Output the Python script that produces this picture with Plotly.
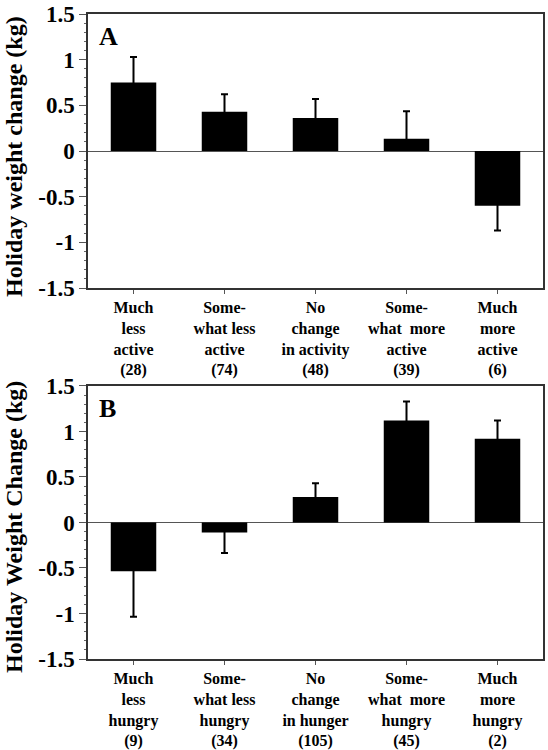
import plotly.graph_objects as go
from plotly.subplots import make_subplots

cats_a = ["Much<br>less<br>active<br>(28)", "Some-<br>what less<br>active<br>(74)",
          "No<br>change<br>in activity<br>(48)", "Some-<br>what  more<br>active<br>(39)",
          "Much<br>more<br>active<br>(6)"]
vals_a = [0.75, 0.43, 0.36, 0.135, -0.60]
err_a = [0.28, 0.19, 0.21, 0.30, 0.27]

cats_b = ["Much<br>less<br>hungry<br>(9)", "Some-<br>what less<br>hungry<br>(34)",
          "No<br>change<br>in hunger<br>(105)", "Some-<br>what  more<br>hungry<br>(45)",
          "Much<br>more<br>hungry<br>(2)"]
vals_b = [-0.535, -0.11, 0.28, 1.12, 0.92]
err_b = [0.50, 0.225, 0.15, 0.21, 0.20]

ytitle_a = "Holiday weight change (kg)"
ytitle_b = "Holiday Weight Change (kg)"
yticks = [-1.5, -1, -0.5, 0, 0.5, 1, 1.5]
yticktext = ["-1.5", "-1", "-0.5", "0", "0.5", "1", "1.5"]

FONT = "Liberation Serif"
INSET = 0.03  # error bar starts slightly inside the bar so its base cap is hidden

fig = make_subplots(rows=2, cols=1, vertical_spacing=0.0)


def add_panel(cats, vals, errs, row):
    xs = list(range(len(cats)))
    fig.add_trace(go.Bar(
        x=xs, y=vals, width=0.5,
        marker=dict(color="black", line=dict(width=0)),
        showlegend=False, hoverinfo="skip"), row=row, col=1)
    base = [v - INSET if v >= 0 else v + INSET for v in vals]
    plus = [e + INSET if v >= 0 else 0 for v, e in zip(vals, errs)]
    minus = [e + INSET if v < 0 else 0 for v, e in zip(vals, errs)]
    fig.add_trace(go.Scatter(
        x=xs, y=base, mode="markers", marker=dict(size=0.1, color="rgba(0,0,0,0)"),
        error_y=dict(type="data", symmetric=False, array=plus, arrayminus=minus,
                     color="black", thickness=2, width=3.5),
        showlegend=False, hoverinfo="skip"), row=row, col=1)


add_panel(cats_a, vals_a, err_a, 1)
add_panel(cats_b, vals_b, err_b, 2)


def bold(labels):
    return ["<b>" + s.replace("<br>", "</b><br><b>") + "</b>" for s in labels]


common_x = dict(range=[-0.5, 4.5], tickmode="array", tickvals=list(range(5)),
                ticks="outside", ticklen=4, tickwidth=1, tickcolor="#555",
                showline=True, linecolor="#333", linewidth=1.5, mirror=True,
                showgrid=False, zeroline=False, automargin=False,
                tickfont=dict(family=FONT, size=16, color="black"))
common_y = dict(range=[-1.5, 1.5], tickmode="array", tickvals=yticks,
                ticktext=["<b>" + t + "</b>" for t in yticktext],
                ticks="outside", ticklen=7, tickwidth=1, tickcolor="#555",
                minor=dict(ticks="outside", ticklen=2, dtick=0.1, tickcolor="#666", tickwidth=1),
                showline=True, linecolor="#333", linewidth=1.5, mirror=True,
                showgrid=False, zeroline=True, zerolinecolor="#555", zerolinewidth=1,
                automargin=False,
                tickfont=dict(family=FONT, size=23, color="black"))

fig.update_xaxes(**common_x, ticktext=bold(cats_a), row=1, col=1)
fig.update_xaxes(**common_x, ticktext=bold(cats_b), row=2, col=1)
fig.update_yaxes(**common_y, domain=[0.5752, 1.0], row=1, col=1)
fig.update_yaxes(**common_y, domain=[0.0, 0.4233], row=2, col=1)

ann = []
for txt, yc in [(ytitle_a, 157), (ytitle_b, 527)]:
    ann.append(dict(text="<b>" + txt + "</b>", xref="paper", yref="paper",
                    x=(14 - 88) / 455, y=(750 - 91 - yc) / 645,
                    xanchor="center", yanchor="middle", textangle=-90, showarrow=False,
                    font=dict(family=FONT, size=24, color="black")))
ann.append(dict(text="<b>A</b>", xref="x domain", yref="y domain", x=(97 - 88) / 455, y=0.918,
                xanchor="left", yanchor="middle", showarrow=False,
                font=dict(family=FONT, size=26, color="black")))
ann.append(dict(text="<b>B</b>", xref="x2 domain", yref="y2 domain", x=(97 - 88) / 455, y=0.916,
                xanchor="left", yanchor="middle", showarrow=False,
                font=dict(family=FONT, size=26, color="black")))

fig.update_layout(width=548, height=750, margin=dict(l=88, r=5, t=14, b=91, autoexpand=False),
                  plot_bgcolor="white", paper_bgcolor="white", bargap=0.5,
                  annotations=ann, font=dict(family=FONT, color="black"))

fig.write_html("out.html", config={"displayModeBar": False},
               post_script="document.body.style.margin='0';document.body.style.overflow='hidden';")
